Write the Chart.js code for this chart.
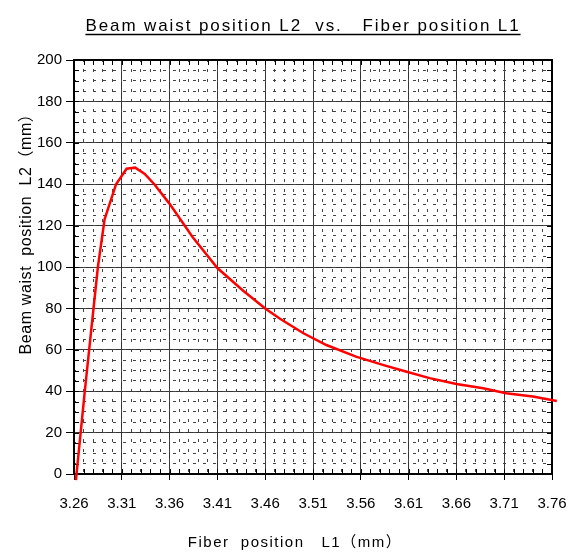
<!DOCTYPE html>
<html>
<head>
<meta charset="utf-8">
<script src="https://cdn.jsdelivr.net/npm/chart.js@4"></script>
<style>
  html, body { margin: 0; padding: 0; background: #fff; }
  canvas { display: block; }
</style>
</head>
<body>
<canvas id="chart" width="572" height="552"></canvas>
<script>
const FONT = "'Liberation Sans', 'Noto Sans CJK JP', sans-serif";

// values
const fiberL1 = [3.262, 3.2713, 3.277, 3.285, 3.292, 3.304, 3.315, 3.324, 3.334, 3.344, 3.36, 3.384,
    3.41, 3.437, 3.46, 3.4755, 3.50, 3.524, 3.555, 3.583, 3.608, 3.632, 3.66, 3.688, 3.712, 3.74, 3.765];
const waistL2 = [-3, 40, 65, 100, 123, 140, 147.5, 148, 145, 140, 130.5, 114.5,
    99.5, 88.5, 80, 75, 68, 62.3, 56.7, 52.7, 49.4, 46.3, 43.5, 41.4, 39, 37.4, 35.3];

const xTicks = [3.26, 3.31, 3.36, 3.41, 3.46, 3.51, 3.56, 3.61, 3.66, 3.71, 3.76];
const yMin = 0, yMax = 200, yStep = 20;
const xMinorStep = 0.01, yMinorStep = 5;

const chartTitle = "Beam waist position L2  vs.   Fiber position L1";
const xTitle = "Fiber  position   L1（mm）";
const yTitle = "Beam waist  position  L2（mm）";

const points = fiberL1.map((x, i) => ({x: x, y: waistL2[i]}));

function minorTicks(from, to, step) {
    let out = [];
    let n = Math.round((to - from) / step);
    for (let i = 0; i <= n; i++) out.push({value: +(from + i * step).toFixed(4)});
    return out;
}

// frame, inner minor ticks and the titles
const decorations = {
    id: 'decorations',
    beforeDatasetsDraw(chart) {
        const {ctx, chartArea: a} = chart;
        const xs = chart.scales.xMinor, ys = chart.scales.yMinor;
        ctx.save();
        ctx.strokeStyle = '#000';
        ctx.lineWidth = 1;
        ctx.beginPath();
        for (let t of xs.ticks) {
            let px = Math.round(xs.getPixelForValue(t.value)) + 0.5;
            ctx.moveTo(px, a.bottom); ctx.lineTo(px, a.bottom - 5);
            ctx.moveTo(px, a.top); ctx.lineTo(px, a.top + 5);
        }
        for (let t of ys.ticks) {
            let py = Math.round(ys.getPixelForValue(t.value)) + 0.5;
            ctx.moveTo(a.left, py); ctx.lineTo(a.left + 5, py);
            ctx.moveTo(a.right, py); ctx.lineTo(a.right - 5, py);
        }
        ctx.stroke();
        ctx.lineWidth = 2;
        ctx.strokeRect(a.left, a.top, a.right - a.left, a.bottom - a.top);
        ctx.restore();
    },
    afterDraw(chart) {
        const {ctx} = chart;
        ctx.save();
        ctx.fillStyle = '#000';
        ctx.strokeStyle = '#000';
        ctx.textAlign = 'center';
        ctx.textBaseline = 'alphabetic';

        ctx.font = '17px ' + FONT;
        ctx.letterSpacing = '1.9px';
        const tx = 303;
        ctx.fillText(chartTitle, tx, 31);
        const w = ctx.measureText(chartTitle).width;
        ctx.lineWidth = 1.5;
        ctx.beginPath();
        ctx.moveTo(tx - w / 2, 34.5);
        ctx.lineTo(tx + w / 2, 34.5);
        ctx.stroke();

        ctx.font = '15px ' + FONT;
        ctx.letterSpacing = '1.5px';
        ctx.fillText(xTitle, 295, 547);

        ctx.font = '16px ' + FONT;
        ctx.letterSpacing = '0.6px';
        ctx.translate(31, 230);
        ctx.rotate(-Math.PI / 2);
        ctx.fillText(yTitle, 0, 0);
        ctx.restore();
    }
};

new Chart(document.getElementById('chart'), {
    type: 'scatter',
    data: {
        datasets: [{
            data: points,
            showLine: true,
            borderColor: '#ff0000',
            borderWidth: 2.5,
            pointRadius: 0,
            tension: 0,
            clip: false
        }]
    },
    options: {
        responsive: false,
        animation: false,
        devicePixelRatio: 1,
        layout: {padding: {left: 0, top: 60, right: 20, bottom: 0}},
        plugins: {legend: {display: false}, tooltip: {enabled: false}},
        scales: {
            x: {
                type: 'linear',
                position: 'bottom',
                min: xTicks[0],
                max: xTicks[xTicks.length - 1],
                afterBuildTicks: s => { s.ticks = xTicks.map(v => ({value: v})); },
                afterFit: s => { s.height = 78; s.paddingLeft = 0; s.paddingRight = 0; },
                grid: {color: '#333', lineWidth: 1, tickLength: 6, tickColor: '#000'},
                border: {display: false},
                ticks: {
                    color: '#000', padding: 15, maxRotation: 0, autoSkip: false,
                    font: {family: FONT, size: 15},
                    callback: v => v.toFixed(2)
                }
            },
            y: {
                type: 'linear',
                position: 'left',
                min: yMin,
                max: yMax,
                afterFit: s => { s.width = 74; s.paddingTop = 0; s.paddingBottom = 0; },
                grid: {color: '#333', lineWidth: 1, tickLength: 8, tickColor: '#000'},
                border: {display: false},
                ticks: {
                    stepSize: yStep, color: '#000', padding: 4,
                    font: {family: FONT, size: 15}
                }
            },
            xMinor: {
                type: 'linear',
                position: 'bottom',
                min: xTicks[0],
                max: xTicks[xTicks.length - 1],
                afterBuildTicks: s => { s.ticks = minorTicks(xTicks[0], xTicks[xTicks.length - 1], xMinorStep); },
                afterFit: s => { s.height = 0; },
                grid: {color: '#444', lineWidth: 1, drawTicks: false},
                border: {display: false, dash: [3, 7], dashOffset: 1},
                ticks: {display: false}
            },
            yMinor: {
                type: 'linear',
                position: 'left',
                min: yMin,
                max: yMax,
                afterBuildTicks: s => { s.ticks = minorTicks(yMin, yMax, yMinorStep); },
                afterFit: s => { s.width = 0; },
                grid: {color: '#444', lineWidth: 1, drawTicks: false},
                border: {display: false, dash: [3, 7], dashOffset: 1},
                ticks: {display: false}
            }
        }
    },
    plugins: [decorations]
});
</script>
</body>
</html>
